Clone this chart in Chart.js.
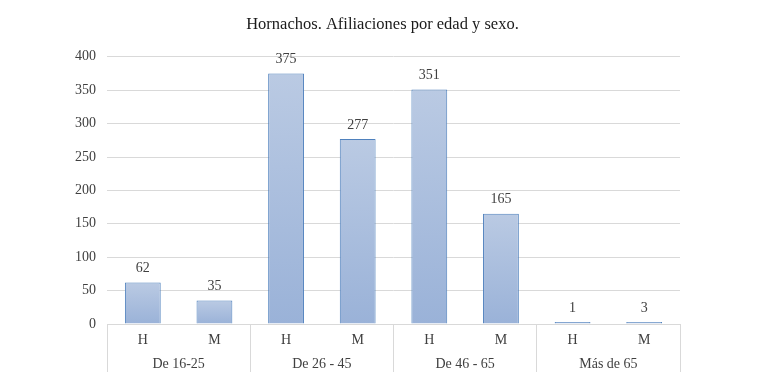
<!DOCTYPE html>
<html>
<head>
<meta charset="utf-8">
<style>
  html, body { margin: 0; padding: 0; background: #fff; }
  #wrap { width: 765px; height: 382px; }
</style>
<script src="https://cdn.jsdelivr.net/npm/chart.js@4"></script>
</head>
<body>
<div id="wrap"><canvas id="myChart"></canvas></div>
<script>
'use strict';

// data
let sexLabels = ['H', 'M', 'H', 'M', 'H', 'M', 'H', 'M'];
let ageGroups = ['De 16-25', 'De 26 - 45', 'De 46 - 65', 'Más de 65'];
let afiliaciones = [62, 35, 375, 277, 351, 165, 1, 3];
let yTicks = [0, 50, 100, 150, 200, 250, 300, 350, 400];

let chartTitle = 'Hornachos. Afiliaciones por edad y sexo.';
let serif = '"Liberation Serif", "DejaVu Serif", serif';
let gridColor = '#d9d9d9';
let textColor = '#404040';

// per-bar vertical gradient, light on top
function barFill(context) {
    let chart = context.chart;
    if (!chart.chartArea) {
        return '#abc0df';
    }
    let y = chart.scales.y;
    let top = y.getPixelForValue(context.raw);
    let bottom = y.getPixelForValue(0);
    if (bottom - top < 2) {
        return '#a5bbdd';
    }
    let g = chart.ctx.createLinearGradient(0, top, 0, bottom);
    g.addColorStop(0, '#bacae3');
    g.addColorStop(1, '#9ab2d8');
    return g;
}

// value labels above each bar
let valueLabels = {
    id: 'valueLabels',
    afterDatasetsDraw(chart) {
        let ctx = chart.ctx;
        let meta = chart.getDatasetMeta(0);
        ctx.save();
        ctx.font = '14px ' + serif;
        ctx.fillStyle = textColor;
        ctx.textAlign = 'center';
        ctx.textBaseline = 'bottom';
        meta.data.forEach(function (bar, i) {
            ctx.fillText(String(afiliaciones[i]), bar.x, bar.y - 7);
        });
        ctx.restore();
    }
};

// only the group boundaries get a separator on the first row
function groupSeparator(c) {
    if (c.type !== 'tick') {
        return gridColor;
    }
    return c.index % 2 === 0 ? gridColor : 'rgba(0,0,0,0)';
}

let ctx = document.getElementById('myChart');

new Chart(ctx, {
    type: 'bar',
    data: {
        labels: sexLabels,
        datasets: [{
            data: afiliaciones,
            backgroundColor: barFill,
            borderColor: '#4f81bd',
            borderWidth: 1,
            minBarLength: 2,
            barPercentage: 0.5,
            categoryPercentage: 1.0
        }]
    },
    plugins: [valueLabels],
    options: {
        responsive: true,
        maintainAspectRatio: false,
        animation: false,
        layout: {
            padding: { left: 0, right: 0, top: 0, bottom: 10 }
        },
        plugins: {
            legend: { display: false },
            tooltip: { enabled: false },
            title: {
                display: true,
                text: chartTitle,
                color: '#1a1a1a',
                font: { family: serif, size: 16.5, weight: 'normal' },
                padding: { top: 15, bottom: 22 }
            }
        },
        scales: {
            x: {
                position: 'bottom',
                offset: true,
                border: { display: true, color: gridColor },
                grid: {
                    offset: true,
                    drawOnChartArea: false,
                    drawTicks: true,
                    tickLength: 24,
                    color: groupSeparator
                },
                ticks: {
                    color: textColor,
                    font: { family: serif, size: 14 },
                    padding: -16,
                    maxRotation: 0
                },
                afterFit(scale) { scale.height = 24; }
            },
            x2: {
                type: 'category',
                position: 'bottom',
                labels: ageGroups,
                offset: true,
                border: { display: false },
                grid: {
                    offset: true,
                    drawOnChartArea: false,
                    drawTicks: true,
                    tickLength: 24,
                    color: gridColor
                },
                ticks: {
                    color: textColor,
                    font: { family: serif, size: 14 },
                    padding: -16,
                    maxRotation: 0
                },
                afterFit(scale) { scale.height = 24; }
            },
            y: {
                min: 0,
                max: 400,
                border: { display: false },
                grid: { color: gridColor, drawTicks: false },
                afterBuildTicks(scale) {
                    scale.ticks = yTicks.map(function (v) { return { value: v }; });
                },
                ticks: {
                    color: textColor,
                    font: { family: serif, size: 14 },
                    padding: 11
                },
                afterFit(scale) { scale.width = 107; }
            },
            // empty right-hand axis that only reserves the white margin
            yRight: {
                position: 'right',
                min: 0,
                max: 400,
                border: { display: false },
                grid: { display: false },
                ticks: { display: false },
                afterFit(scale) { scale.width = 85; }
            }
        }
    }
});
</script>
</body>
</html>
